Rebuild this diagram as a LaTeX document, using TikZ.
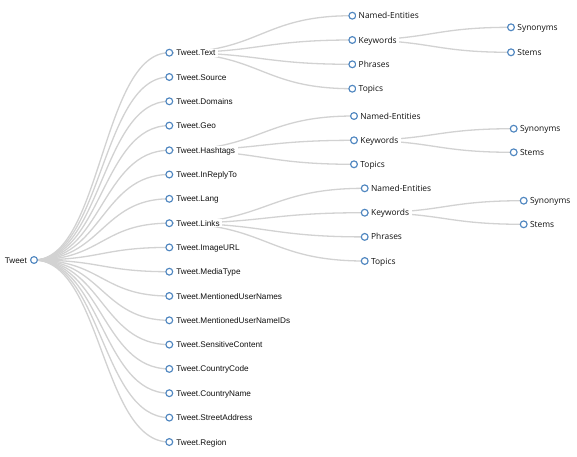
\documentclass[tikz,border=0pt]{standalone}
\usepackage{fontspec}
\setmainfont{Liberation Sans}
\newfontfamily\segoe{Open Sans}
\usetikzlibrary{calc,backgrounds}
\definecolor{steel}{HTML}{4F86C0}
\definecolor{linkcol}{HTML}{D2D2D2}
\definecolor{textcol}{HTML}{111111}
\tikzset{
  dot/.style={circle,draw=steel,fill=white,minimum size=6.8pt,inner sep=0pt,line width=1.15pt},
  labone/.style={font=\fontsize{8.2}{9}\selectfont,text=textcol,fill=white,inner xsep=2.5pt,inner ysep=1pt},
  labtwo/.style={font=\segoe\fontsize{8.4}{9}\selectfont,text=textcol,fill=white,inner xsep=2.5pt,inner ysep=1pt},
  linkst/.style={draw=linkcol,line width=1.3pt}
}
\newcommand\tnode[4]{%
  \node[dot] (#1) at (#2,#3) {};
  \node[labone,anchor=base west] (#1-l) at ([xshift=4.3pt,yshift=-3pt]#1.center) {#4};}
\newcommand\snode[4]{%
  \node[dot] (#1) at (#2,#3) {};
  \node[labtwo,anchor=base west] (#1-l) at ([xshift=3.7pt,yshift=-3pt]#1.center) {#4};}
\newcommand\tlink[2]{%
  \path[linkst] let \p1=(#1.center), \p2=(#2.center) in
    (\p1) .. controls ({(\x1+\x2)/2},\y1) and ({(\x1+\x2)/2},\y2) .. (\p2);}
\begin{document}
\begin{tikzpicture}[x=1pt,y=-1pt]
\useasboundingbox (0,0) rectangle (577,456);
% root
\node[dot] (root) at (34,260) {};
\node[labone,anchor=base east] (root-l) at ([xshift=-4.5pt,yshift=-3pt]root.center) {Tweet};
% level 1
\tnode{t1}{169.3}{52.7}{Tweet.Text}
\tnode{t2}{169.3}{77.0}{Tweet.Source}
\tnode{t3}{169.3}{101.3}{Tweet.Domains}
\tnode{t4}{169.3}{125.6}{Tweet.Geo}
\tnode{t5}{169.3}{150.3}{Tweet.Hashtags}
\tnode{t6}{169.3}{174.5}{Tweet.InReplyTo}
\tnode{t7}{169.3}{198.8}{Tweet.Lang}
\tnode{t8}{169.3}{223.2}{Tweet.Links}
\tnode{t9}{169.3}{247.4}{Tweet.ImageURL}
\tnode{t10}{169.3}{271.7}{Tweet.MediaType}
\tnode{t11}{169.3}{296.0}{Tweet.MentionedUserNames}
\tnode{t12}{169.3}{320.3}{Tweet.MentionedUserNameIDs}
\tnode{t13}{169.3}{344.6}{Tweet.SensitiveContent}
\tnode{t14}{169.3}{368.9}{Tweet.CountryCode}
\tnode{t15}{169.3}{393.2}{Tweet.CountryName}
\tnode{t16}{169.3}{417.6}{Tweet.StreetAddress}
\tnode{t17}{169.3}{442.0}{Tweet.Region}
% level 2: Text
\snode{a1}{352.3}{15.7}{Named-Entities}
\snode{a2}{352.3}{40.0}{Keywords}
\snode{a3}{352.3}{64.3}{Phrases}
\snode{a4}{352.3}{88.7}{Topics}
% level 2: Hashtags
\snode{b1}{354.0}{116.0}{Named-Entities}
\snode{b2}{354.0}{140.3}{Keywords}
\snode{b3}{354.0}{164.3}{Topics}
% level 2: Links
\snode{c1}{364.7}{188.3}{Named-Entities}
\snode{c2}{364.7}{212.7}{Keywords}
\snode{c3}{364.7}{236.9}{Phrases}
\snode{c4}{364.7}{261.0}{Topics}
% level 3
\snode{ak1}{511.0}{27.3}{Synonyms}
\snode{ak2}{511.0}{52.3}{Stems}
\snode{bk1}{513.7}{128.7}{Synonyms}
\snode{bk2}{513.7}{152.3}{Stems}
\snode{ck1}{523.7}{200.7}{Synonyms}
\snode{ck2}{523.7}{224.3}{Stems}
\begin{pgfonlayer}{background}
\fill[white] (0,0) rectangle (577,456);
\foreach \k in {1,...,17}{\tlink{root}{t\k}}
\foreach \k in {a1,a2,a3,a4}{\tlink{t1}{\k}}
\foreach \k in {b1,b2,b3}{\tlink{t5}{\k}}
\foreach \k in {c1,c2,c3,c4}{\tlink{t8}{\k}}
\tlink{a2}{ak1}\tlink{a2}{ak2}
\tlink{b2}{bk1}\tlink{b2}{bk2}
\tlink{c2}{ck1}\tlink{c2}{ck2}
\end{pgfonlayer}
\end{tikzpicture}
\end{document}
